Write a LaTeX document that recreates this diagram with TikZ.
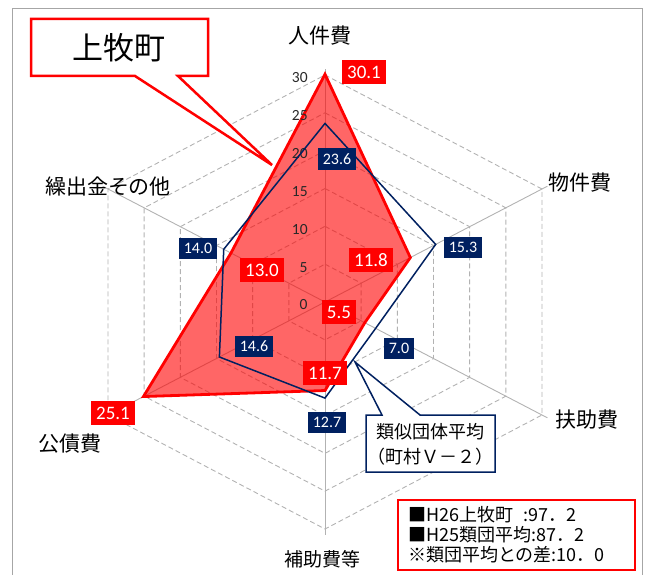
\documentclass[tikz,border=0pt]{standalone}
\usepackage{fontspec}
\setmainfont{Carlito}
\newfontfamily\jp{Noto Sans CJK JP}
\usetikzlibrary{calc}
\definecolor{navy}{RGB}{0,32,96}
\definecolor{gridgray}{RGB}{178,178,178}
\definecolor{tickgray}{RGB}{40,40,40}
\tikzset{
	redval/.style={fill=red, text=white, font=\fontsize{19}{19}\selectfont, inner xsep=5pt, inner ysep=0pt, minimum height=24pt},
	blueval/.style={fill=navy, text=white, font=\fontsize{16}{16}\selectfont, inner xsep=5pt, inner ysep=0pt, minimum height=21pt},
	axislabel/.style={font=\jp\fontsize{21}{21}\selectfont},
	ring/.style={gridgray, dash pattern=on 5pt off 3pt, line width=0.9pt},
}
\begin{document}
\begin{tikzpicture}[x=1pt,y=-1pt,thick]
			\useasboundingbox (0,0) rectangle (645,575);
			% frame
			\draw[gray!70, line width=1pt] (12,575) -- (12,9) -- (642,9) -- (642,575);
			% axes
			\coordinate (c) at (325,302);
			\coordinate (h1) at (325,75);
			\coordinate (h2) at (542,189);
			\coordinate (h3) at (542,415);
			\coordinate (h4) at (325,529);
			\coordinate (h5) at (108,415);
			\coordinate (h6) at (108,189);
			\foreach \i in {1,...,6}
			\draw[gridgray, line width=0.9pt] (c) -- ($(c)!1.025!(h\i)$);
			% rings
			\foreach \k in {5,10,...,30}{
				\draw[ring] ($(c)!\k/30!(h1)$)
				\foreach \i in {2,...,6}{ -- ($(c)!\k/30!(h\i)$) } -- cycle;
			}
			% H26
			\foreach \v [count=\i] in {30.1,11.8,5.5,11.7,25.1,13.0}
			\coordinate (r\i) at ($(c)!\v/30!(h\i)$);
			\draw[red, line width=2.8pt, line join=miter, fill=red, fill opacity=0.6]
			(r1) -- (r2) -- (r3) -- (r4) -- (r5) -- (r6) -- cycle;
			% ticks
			\foreach \k in {0,5,...,30}
			\node[anchor=east, text=tickgray, font=\fontsize{15.5}{15.5}\selectfont, inner sep=0pt] (t\k) at ($(c)!\k/30!(h1)+(-17,3)$) {\k};
			% H25 average
			\foreach \v [count=\i] in {23.6,15.3,7.0,12.7,14.6,14.0}
			\coordinate (b\i) at ($(c)!\v/30!(h\i)$);
			\draw[navy, line width=1.5pt] (b1) -- (b2) -- (b3) -- (b4) -- (b5) -- (b6) -- cycle;
			% axis labels
			\node[axislabel] (ax1) at (320,36) {人件費};
			\node[axislabel] (ax2) at (580,183) {物件費};
			\node[axislabel] (ax3) at (587,420) {扶助費};
			\node[axislabel, font=\jp\fontsize{19}{19}\selectfont] (ax4) at (322,559) {補助費等};
			\node[axislabel] (ax5) at (70,444) {公債費};
			\node[axislabel] (ax6) at (108,187) {繰出金その他};
			% values
			\foreach \v/\x/\y [count=\i] in {30.1/364/72, 11.8/371/260, 5.5/339/312, 11.7/325/373, 25.1/113/413, 13.0/262/270}
			\node[redval] (rv\i) at (\x,\y) {\v};
			\foreach \v/\x/\y [count=\i] in {23.6/337/159, 15.3/463/247, 7.0/399/348, 12.7/327/422, 14.6/254/346, 14.0/198/248}
			\node[blueval] (bv\i) at (\x,\y) {\v};
			% callouts
			\coordinate (kamitip) at (272,165);
			\draw[red, line width=2.5pt, fill=white, line join=miter]
			(31,19) -- (208,19) -- (208,76) -- (178,76) -- (kamitip) -- (135,76) -- (31,76) -- cycle;
			\node[font=\jp\fontsize{31}{31}\selectfont] (kami) at (119,48) {上牧町};
			\coordinate (avgtip) at (355,362);
			\draw[navy, line width=1.5pt, fill=white, line join=miter]
			(366,415) -- (382,415) -- (avgtip) -- (420,415) -- (495,415) -- (495,472) -- (366,472) -- cycle;
			\node[font=\jp\fontsize{18}{25}\selectfont, align=center] (avg) at (430.5,444) {類似団体平均\\（町村Ｖ－２）};
			% legend
			\node[draw=red, line width=2.5pt, minimum height=70pt, text width=217pt, inner xsep=10pt, inner ysep=0pt,
			font=\jp\fontsize{18}{20}\selectfont, align=left] (legend) at (516.5,535)
			{■H26上牧町\hspace{0.6em}:97．2\\■H25類団平均:87．2\\※類団平均との差:10．0};
\end{tikzpicture}
\end{document}
